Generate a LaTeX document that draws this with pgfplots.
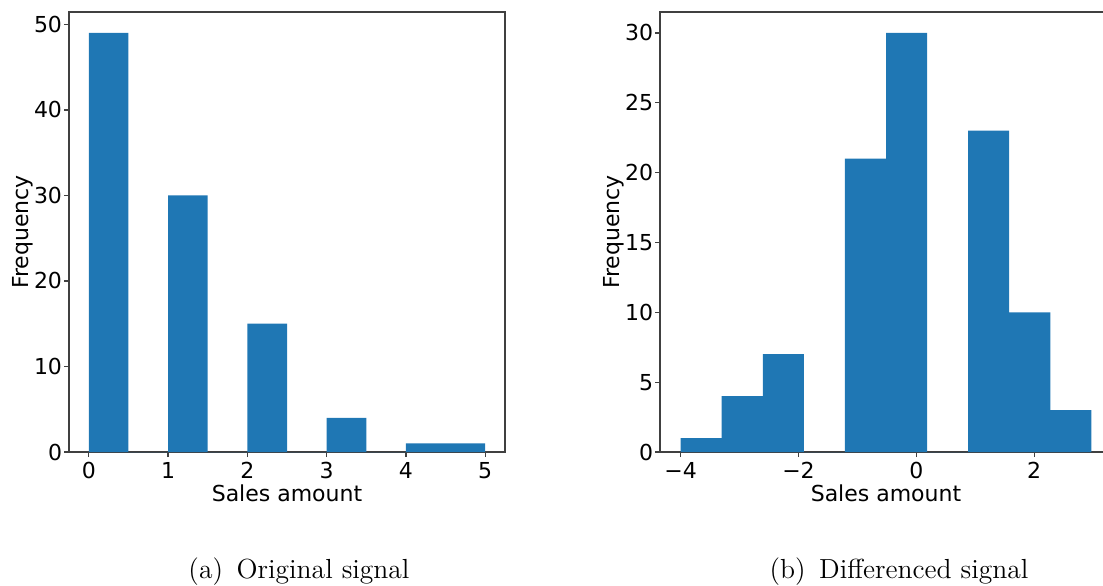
\documentclass[border=0pt]{standalone}
\usepackage{fontspec}
\usepackage{pgfplots}
\pgfplotsset{compat=1.18}
\newfontfamily\dejavu{DejaVu Sans}
\definecolor{mplblue}{HTML}{1F77B4}

% 1 px of the reference = 0.5pt
\pgfplotsset{
  histax/.style={
    scale only axis,
    height=220pt,
    ymin=0,
    axis line style={black!75, line width=0.6pt},
    tick style={black!75, line width=0.6pt},
    tick align=outside,
    major tick length=2.5pt,
    xtick pos=bottom, ytick pos=left,
    axis x line*=box, axis y line*=box,
    tick label style={font=\dejavu\fontsize{11}{13}\selectfont, inner sep=0.8pt},
    x tick label style={yshift=-1.5pt},
    label style={font=\dejavu\fontsize{11}{13}\selectfont},
    /pgf/number format/assume math mode=true,
    xlabel={Sales amount},
    ylabel={Frequency},
    ylabel style={yshift=-4pt},
    xlabel style={yshift=1.5pt},
  }
}

\begin{document}
\begin{tikzpicture}
\useasboundingbox (0,0) rectangle (551.5pt,292.5pt);

\begin{axis}[histax, name=left,
  at={(34.5pt,66.5pt)}, anchor=south west,
  width=218pt,
  xmin=-0.25, xmax=5.25, ymax=51.45,
  xtick={0,1,2,3,4,5},
  ytick={0,10,20,30,40,50},
]
\addplot[ybar interval, fill=mplblue, draw=none] coordinates {
  (0,49) (0.5,0) (1,30) (1.5,0) (2,15) (2.5,0) (3,4) (3.5,0) (4,1) (4.5,1) (5,1)
};
\end{axis}

\begin{axis}[histax, name=right,
  at={(330pt,66.5pt)}, anchor=south west,
  width=226pt,
  xmin=-4.35, xmax=3.32, ymax=31.5,
  xtick={-4,-2,0,2},
  xticklabels={−4,−2,0,2},
  ytick={0,5,10,15,20,25,30},
]
\addplot[ybar interval, fill=mplblue, draw=none] coordinates {
  (-4,1) (-3.303,4) (-2.606,7) (-1.909,0) (-1.212,21) (-0.515,30)
  (0.182,0) (0.879,23) (1.576,10) (2.273,3) (2.970,3)
};
\end{axis}

\node[anchor=base, font=\fontsize{13.8}{16}\selectfont] at (149.5pt,3.5pt) {(a)\, Original signal};
\node[anchor=base, font=\fontsize{13.8}{16}\selectfont] at (449.5pt,3.5pt) {(b)\, Differenced signal};
\end{tikzpicture}
\end{document}
